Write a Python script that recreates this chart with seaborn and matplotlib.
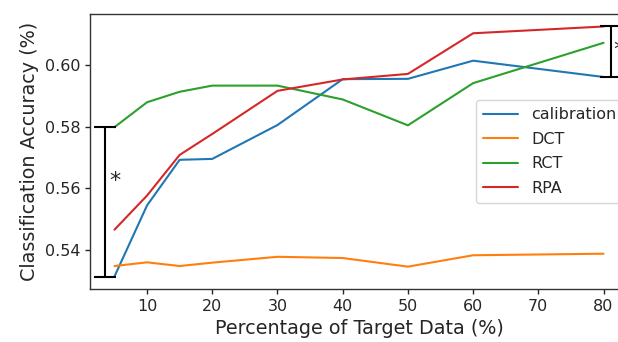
import pandas as pd
import numpy as np
import matplotlib
matplotlib.use("Agg")
import matplotlib.pyplot as plt
import seaborn as sns

# Datos
porcentaje = [5, 10, 15, 20, 30, 40, 50, 60, 80]
calibration = [0.5314, 0.5545, 0.5693, 0.5696, 0.5806, 0.5955, 0.5956, 0.6015, 0.5962]
dct = [0.5348, 0.5360, 0.5348, 0.5359, 0.5378, 0.5374, 0.5346, 0.5383, 0.5388]
rct = [0.5799, 0.5880, 0.5914, 0.5934, 0.5934, 0.5889, 0.5805, 0.5942, 0.6073]
rpa = [0.5466, 0.5577, 0.5709, 0.5777, 0.5917, 0.5954, 0.5972, 0.6104, 0.6126]
metodos = ["calibration", "DCT", "RCT", "RPA"]

sns.set_theme(style="ticks", rc={"xtick.major.size": 3.5, "ytick.major.size": 3.5,
                                 "axes.linewidth": 1.0, "xtick.major.width": 1.0,
                                 "ytick.major.width": 1.0})

# Formato largo
df = pd.DataFrame({"x": porcentaje * 4,
                   "acc": calibration + dct + rct + rpa,
                   "metodo": np.repeat(metodos, len(porcentaje))})

fig = plt.figure(figsize=(6.18, 3.42), dpi=100)
# el eje se sale por la derecha (imagen recortada)
ax = fig.add_axes([90 / 618, 53 / 342, 538 / 618, 275 / 342])

sns.lineplot(data=df, x="x", y="acc", hue="metodo", hue_order=metodos,
             palette="tab10", linewidth=1.5, ax=ax)

ax.set_xlabel("Percentage of Target Data (%)", fontsize=13.8)
ax.set_ylabel("Classification Accuracy (%)", fontsize=13.8)
ax.tick_params(labelsize=11.5)
for s in ax.spines.values():
    s.set_color("#333333")

# Corchetes de significancia
ax.plot([3.5, 3.5], [calibration[0], rct[0]], color="black", linewidth=1.5,
        marker="_", markersize=16, markeredgewidth=1.5)
ax.text(5.0, 0.5625, "*", fontsize=16, ha="center", va="center")
ax.plot([81.1, 81.1], [calibration[-1], rpa[-1]], color="black", linewidth=1.5,
        marker="_", markersize=16, markeredgewidth=1.5)
ax.text(82.3, 0.6050, "*", fontsize=16, ha="center", va="center")

# Limites como el autoescalado de las series (5% de margen)
xmin, xmax = min(porcentaje), max(porcentaje)
ymin, ymax = df["acc"].min(), df["acc"].max()
ax.set_xlim(xmin - 0.05 * (xmax - xmin), xmax + 0.05 * (xmax - xmin))
ax.set_ylim(ymin - 0.05 * (ymax - ymin), ymax + 0.05 * (ymax - ymin))

# Leyenda: empieza en x=476 px y se corta por la derecha
sns.move_legend(ax, "center left", bbox_to_anchor=((476 - 90) / 538, 0.50),
                title=None, fontsize=11.5, frameon=True, borderaxespad=0,
                borderpad=0.45, handlelength=2.2, labelspacing=0.6)

fig.savefig("out.png", dpi=100)
